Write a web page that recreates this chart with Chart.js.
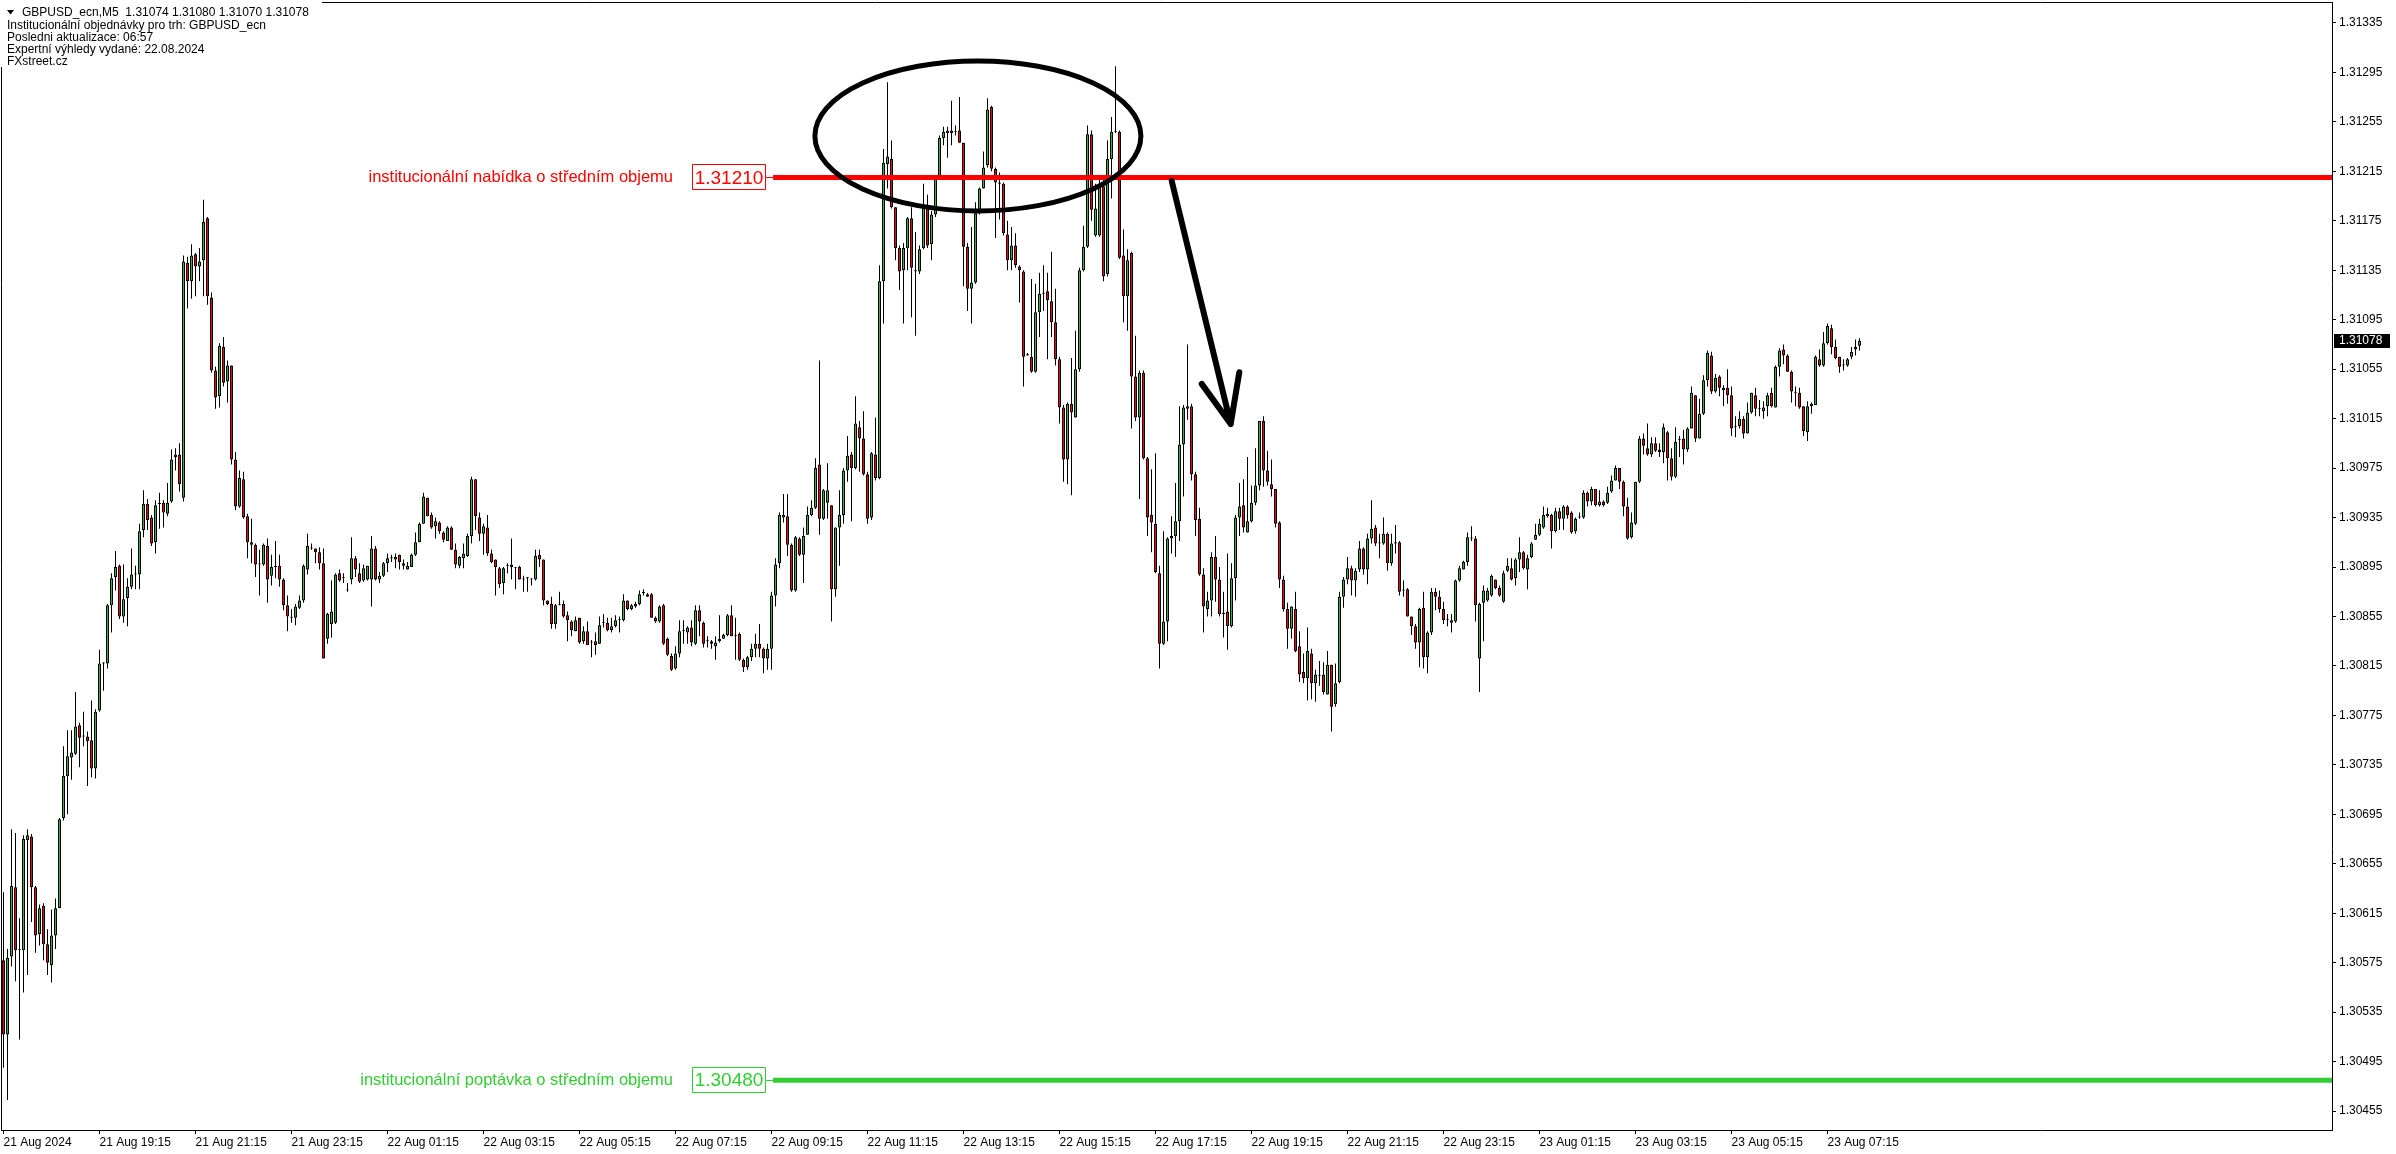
<!DOCTYPE html>
<html>
<head>
<meta charset="utf-8">
<title>GBPUSD_ecn M5</title>
<script src="https://cdn.jsdelivr.net/npm/chart.js@4.4.1/dist/chart.umd.min.js"></script>
<style>
  html, body { margin: 0; padding: 0; background: #fff; }
  canvas { display: block; }
</style>
</head>
<body>
<canvas id="chart" width="2396" height="1154"></canvas>
<script>
// prices are kept in points above 1.30000 (1 point = 0.00001)
const BASE = 1.3;
const POINT = 0.00001;

// M5 candles, 21 Aug 2024 17:15 -> 23 Aug 2024 07:55
const opens = [
  577,517,580,636,585,585,674,677,636,598,621,590,573,597,619,692,726,741,744,767,
  758,758,755,732,779,817,817,864,887,896,855,870,879,889,889,925,946,935,915,946,
  947,938,948,984,986,951,1141,1126,1148,1138,1143,1177,1113,1054,1033,1073,1045,1058,982,944,
  966,936,915,913,897,897,912,888,895,896,885,864,854,854,862,868,893,910,910,907,
  898,837,849,850,890,886,876,885,902,890,884,885,885,910,885,888,898,902,901,905,
  898,893,895,905,915,930,951,937,928,931,923,916,927,909,896,902,904,920,966,935,
  922,927,906,901,894,882,896,897,894,895,885,886,885,885,905,901,868,865,849,864,
  865,856,851,843,854,835,843,834,835,833,850,850,844,847,852,852,868,861,863,865,
  874,873,873,854,851,864,837,823,813,825,843,842,846,833,860,850,835,835,831,835,
  837,840,856,839,841,820,814,822,829,833,829,821,829,872,898,935,936,913,876,918,
  905,921,937,943,978,934,947,945,877,927,937,973,986,975,1008,999,970,935,986,967,
  1126,1221,1225,1186,1153,1135,1153,1177,1135,1134,1153,1186,1156,1180,1209,1242,1246,1248,1247,1248,
  1238,1154,1120,1125,1181,1201,1220,1267,1217,1206,1205,1164,1143,1155,1138,1134,1067,1065,1053,1101,
  1116,1118,1110,1093,1063,1024,982,1027,1016,1055,1135,1154,1245,1163,1163,1203,1132,1225,1247,1247,
  1147,1114,1149,1049,1016,1052,983,937,930,890,833,851,918,920,932,994,1023,1025,970,934,
  889,861,868,903,885,858,859,847,886,935,945,923,932,947,961,1013,973,962,958,931,
  885,861,845,861,831,810,805,825,801,807,808,792,816,784,802,871,885,894,884,893,
  910,893,918,927,914,914,922,898,914,915,876,877,855,847,834,862,822,842,875,871,
  861,852,850,851,884,893,899,918,918,821,866,868,872,885,878,867,892,894,886,901,
  907,893,903,917,921,927,936,937,924,940,934,944,939,924,935,935,955,948,958,945,
  948,947,956,965,975,964,944,919,930,964,999,991,986,995,990,988,1004,983,968,998,
  999,990,1007,1034,999,1019,1046,1066,1037,1049,1038,1040,1034,1008,1009,1015,1003,1020,1034,1023,
  1021,1025,1036,1024,1057,1071,1066,1053,1036,1036,1025,1004,1025,1026,1063,1058,1076,1088,1073,1065,
  1058,1058,1065,1073,1074
];
const highs = [
  632,586,683,680,611,678,683,679,637,622,623,602,618,627,692,750,763,763,794,769,
  778,762,787,780,828,818,865,890,908,897,897,886,910,896,930,957,950,937,949,955,
  949,963,990,991,995,1147,1146,1156,1149,1153,1192,1178,1117,1057,1076,1081,1062,1058,988,973,
  972,938,934,914,909,914,918,905,916,905,886,872,861,865,872,897,922,914,910,911,
  910,858,884,890,893,890,882,919,904,898,897,896,920,912,891,899,906,905,906,905,
  901,899,906,923,931,955,951,939,935,932,924,928,928,914,904,914,922,968,966,939,
  930,937,909,901,895,895,898,918,895,896,888,887,886,909,909,901,868,871,865,875,
  868,859,852,855,854,847,851,836,842,855,857,854,854,856,855,873,868,865,867,876,
  877,874,874,855,864,865,838,825,831,852,852,847,852,864,864,851,839,836,839,856,
  841,857,864,854,842,821,823,833,841,849,830,833,875,902,939,954,954,914,920,919,
  927,944,949,983,1062,958,979,945,927,957,975,1001,988,1033,1013,1021,972,988,1016,1139,
  1233,1287,1240,1186,1155,1157,1178,1186,1166,1155,1205,1196,1183,1210,1244,1251,1251,1272,1252,1275,
  1238,1157,1170,1190,1202,1231,1274,1268,1218,1214,1206,1175,1170,1165,1139,1135,1068,1128,1124,1133,
  1139,1133,1150,1120,1065,1026,1028,1064,1086,1137,1171,1252,1248,1205,1209,1211,1240,1259,1300,1248,
  1168,1152,1150,1082,1054,1054,984,974,987,896,924,919,936,963,1025,1026,1075,1027,972,943,
  894,875,907,920,895,875,906,898,937,963,966,984,961,991,1013,1017,989,982,958,932,
  888,866,863,875,843,825,846,829,812,819,818,827,816,817,875,887,903,896,894,916,
  911,922,949,929,922,935,923,922,929,916,884,878,855,849,862,875,843,878,878,876,
  867,857,857,885,896,900,923,928,920,866,880,878,889,885,880,892,902,902,902,919,
  908,905,915,930,934,944,943,938,943,943,945,945,940,935,939,957,956,960,958,957,
  949,960,969,977,975,965,951,939,964,1001,1003,1011,1000,1000,995,1011,1005,991,1008,1001,
  1006,1008,1041,1034,1031,1050,1070,1069,1051,1050,1042,1055,1041,1017,1021,1017,1028,1036,1040,1030,
  1029,1036,1040,1058,1072,1075,1067,1054,1041,1040,1025,1029,1028,1066,1071,1085,1092,1091,1079,1065,
  1063,1064,1073,1079,1080
];
const lows = [
  490,464,572,560,513,551,565,608,583,589,577,565,559,586,619,690,695,723,743,733,
  750,718,725,724,778,795,813,842,876,853,850,847,877,877,877,919,925,912,906,926,
  927,936,947,973,956,948,1104,1112,1114,1126,1114,1107,1052,1023,1024,1041,1028,978,941,943,
  934,902,898,887,872,896,866,880,886,879,860,843,850,848,861,866,889,909,898,893,
  821,833,838,849,883,882,875,881,887,882,883,884,863,884,882,887,891,899,894,893,
  893,893,895,904,915,930,936,926,918,922,915,916,909,894,894,894,903,914,925,916,
  905,904,898,872,878,873,890,885,877,885,875,875,880,884,895,864,864,845,845,864,
  854,835,839,843,833,833,832,822,824,833,846,843,842,846,842,851,860,860,862,864,
  872,871,854,850,850,832,823,811,812,822,833,833,831,832,839,830,830,829,820,834,
  837,839,839,820,819,810,812,819,822,822,809,812,812,863,894,931,904,875,875,904,
  882,921,936,942,921,933,934,851,871,896,930,964,932,974,972,969,930,933,965,966,
  1092,1201,1185,1143,1119,1092,1135,1097,1082,1132,1152,1153,1143,1178,1208,1236,1226,1236,1244,1238,
  1122,1102,1092,1124,1180,1201,1218,1215,1161,1176,1163,1135,1135,1137,1109,1041,1066,1052,1052,1081,
  1102,1063,1081,1058,1011,964,962,953,1016,1053,1134,1153,1175,1162,1162,1126,1130,1193,1246,1144,
  1093,1086,1007,1013,950,982,920,907,890,813,832,835,906,903,916,952,1014,965,920,888,
  842,855,855,867,855,838,828,846,868,920,923,923,931,945,957,960,961,952,927,878,
  859,829,837,826,802,801,787,788,786,799,792,792,762,782,801,862,881,872,871,891,
  889,881,914,912,902,913,892,896,906,872,871,855,840,829,814,813,809,840,860,858,
  849,847,842,850,883,893,896,916,851,794,835,867,871,877,871,866,891,884,880,891,
  893,877,902,917,920,926,935,910,923,925,925,934,922,922,934,934,944,945,944,944,
  944,946,955,965,958,936,917,918,929,963,986,985,984,988,984,979,965,965,967,984,
  978,988,1007,996,999,1018,1041,1035,1036,1033,1025,1027,1001,1000,1007,999,1003,1019,1017,1017,
  1015,1017,1024,1024,1049,1059,1053,1028,1025,1023,1001,997,1019,1026,1057,1057,1075,1067,1063,1052,
  1054,1057,1063,1066,1070
];
const closes = [
  517,579,637,585,585,675,678,636,597,619,590,575,597,619,691,726,742,745,766,757,
  758,754,732,778,817,817,864,886,895,855,869,879,889,889,924,946,933,914,945,946,
  939,947,982,986,962,1142,1126,1147,1138,1142,1174,1114,1054,1032,1074,1044,1058,982,944,967,
  935,915,913,897,897,913,885,895,895,885,864,855,854,863,868,896,912,910,907,898,
  821,857,859,889,884,886,876,902,893,883,894,896,910,885,888,898,902,902,903,899,
  896,896,905,915,930,952,936,927,932,924,917,927,909,897,903,906,920,966,936,922,
  928,906,899,895,881,894,896,895,894,885,885,886,885,904,901,868,865,849,864,864,
  855,852,844,852,834,843,832,834,832,848,850,844,847,852,852,868,861,864,865,873,
  874,871,854,851,863,833,824,812,825,843,843,846,834,860,851,833,835,833,834,837,
  840,856,839,839,820,814,822,829,833,829,821,829,872,897,937,937,913,876,919,905,
  920,937,943,975,934,957,957,877,927,937,973,985,975,1011,999,970,934,987,967,1126,
  1222,1227,1186,1153,1134,1153,1177,1137,1134,1152,1186,1155,1180,1209,1242,1247,1248,1246,1247,1238,
  1154,1120,1125,1181,1201,1218,1265,1217,1206,1205,1165,1143,1155,1139,1135,1065,1066,1053,1101,1116,
  1116,1111,1093,1063,1024,982,1027,1020,1055,1135,1154,1245,1184,1185,1203,1130,1225,1247,1247,1145,
  1114,1143,1049,1016,1052,983,935,931,891,833,851,918,920,932,994,1024,1025,970,933,889,
  863,868,903,885,857,857,847,886,935,944,927,932,947,961,1013,973,964,958,930,885,
  861,845,863,827,808,805,827,801,808,807,794,816,782,801,871,885,894,884,892,910,
  893,918,926,914,914,922,898,914,915,875,876,855,847,834,861,822,842,875,871,861,
  852,852,852,884,894,899,919,918,864,865,876,876,888,878,872,890,896,885,901,907,
  894,902,914,921,930,937,938,924,940,934,944,937,923,934,935,955,948,958,945,948,
  945,955,965,975,964,944,918,931,964,999,993,986,995,989,988,1008,983,968,996,998,
  990,1007,1036,999,1019,1046,1068,1037,1048,1040,1040,1034,1007,1008,1015,1003,1020,1036,1023,1023,
  1024,1034,1025,1057,1070,1066,1053,1037,1036,1024,1005,1025,1027,1065,1058,1076,1090,1073,1064,1057,
  1058,1063,1069,1071,1078
];

// time axis: a label every 24 bars (2 hours)
const tickBars = [0,24,48,72,96,120,144,168,192,216,240,264,288,312,336,360,384,408,432,456];
const tickLabels = [
  '21 Aug 2024','21 Aug 19:15','21 Aug 21:15','21 Aug 23:15','22 Aug 01:15','22 Aug 03:15',
  '22 Aug 05:15','22 Aug 07:15','22 Aug 09:15','22 Aug 11:15','22 Aug 13:15','22 Aug 15:15',
  '22 Aug 17:15','22 Aug 19:15','22 Aug 21:15','22 Aug 23:15','23 Aug 01:15','23 Aug 03:15',
  '23 Aug 05:15','23 Aug 07:15'
];
const priceTicks = [
  1.30455,1.30495,1.30535,1.30575,1.30615,1.30655,1.30695,1.30735,1.30775,1.30815,1.30855,1.30895,
  1.30935,1.30975,1.31015,1.31055,1.31095,1.31135,1.31175,1.31215,1.31255,1.31295,1.31335
];

// institutional levels
const levelNames = ['institucionální nabídka o středním objemu', 'institucionální poptávka o středním objemu'];
const levelPrices = [1.31210, 1.30480];
const levelColors = ['#ff0000', '#32cd32'];
const levelStartBar = 192.4;

// hand drawn marks (bar index / price)
const zone = { bar: 243.6, price: 1.312436, halfBars: 40.75, halfPrice: 0.000606 };
const arrowFrom = { bar: 292.05, price: 1.312073 };
const arrowTip = { bar: 306.8, price: 1.310106 };
const arrowWings = [{ bar: 299.55, price: 1.310431 }, { bar: 308.95, price: 1.310525 }];

const headerLines = [
  'Institucionální objednávky pro trh: GBPUSD_ecn',
  'Posledni aktualizace: 06:57',
  'Expertní výhledy vydané: 22.08.2024',
  'FXstreet.cz'
];

const X_MIN = -0.625, X_MAX = 582.125;
const Y_MIN = 1.3043972, Y_MAX = 1.3135192;
const BULL = '#3cb043', BEAR = '#ff0000';
const FONT = '"Liberation Sans", Arial, sans-serif';

const price = v => BASE + v * POINT;
const fmt = v => v.toFixed(5);

const wickData = lows.map((l, i) => ({ x: i, y: [price(l), price(highs[i])] }));
const bodyData = opens.map((o, i) => ({ x: i, y: [price(o), price(closes[i])] }));
const bodyColors = opens.map((o, i) => (closes[i] >= o ? BULL : BEAR));

const levelSets = levelPrices.map((p, k) => ({
  type: 'line',
  data: [{ x: levelStartBar, y: p }, { x: X_MAX, y: p }],
  borderColor: levelColors[k],
  borderWidth: 5,
  pointRadius: 0,
  tension: 0,
  order: 0
}));

const last = opens.length - 1;

const overlay = {
  id: 'overlay',
  afterDatasetsDraw(chart) {
    const { ctx, chartArea: a } = chart;
    const x = chart.scales.x, y = chart.scales.y;
    const px = p => x.getPixelForValue(p.bar);
    const py = p => y.getPixelForValue(p.price);
    ctx.save();
    ctx.beginPath();
    ctx.rect(a.left, a.top, a.right - a.left, a.bottom - a.top);
    ctx.clip();

    // ellipse round the top
    const cx = px(zone), cy = py(zone);
    const rx = x.getPixelForValue(zone.bar + zone.halfBars) - cx;
    const ry = cy - y.getPixelForValue(zone.price + zone.halfPrice);
    ctx.strokeStyle = '#000';
    ctx.lineWidth = 5;
    ctx.beginPath();
    ctx.ellipse(cx, cy, rx, ry, 0, 0, Math.PI * 2);
    ctx.stroke();

    // arrow
    ctx.lineWidth = 6;
    ctx.lineCap = 'round';
    ctx.lineJoin = 'round';
    ctx.beginPath();
    ctx.moveTo(px(arrowFrom), py(arrowFrom));
    ctx.lineTo(px(arrowTip), py(arrowTip));
    arrowWings.forEach(w => {
      ctx.moveTo(px(w), py(w));
      ctx.lineTo(px(arrowTip), py(arrowTip));
    });
    ctx.stroke();

    // level labels
    levelPrices.forEach((p, k) => {
      const lx = x.getPixelForValue(levelStartBar);
      const ly = y.getPixelForValue(p);
      const col = levelColors[k];
      ctx.lineCap = 'butt';
      ctx.strokeStyle = col;
      ctx.lineWidth = 1;
      ctx.beginPath();
      ctx.moveTo(lx - 7, Math.round(ly) + 0.5);
      ctx.lineTo(lx, Math.round(ly) + 0.5);
      ctx.stroke();
      const bx = Math.round(lx) - 81, by = Math.round(ly) - 13;
      ctx.fillStyle = '#fff';
      ctx.fillRect(bx, by, 74, 26);
      ctx.strokeRect(bx + 0.5, by + 0.5, 73, 25);
      ctx.fillStyle = col;
      ctx.textBaseline = 'middle';
      ctx.textAlign = 'center';
      ctx.font = '19px ' + FONT;
      ctx.fillText(fmt(p), bx + 37, ly + 1);
      ctx.textAlign = 'right';
      ctx.font = '16.5px ' + FONT;
      ctx.fillText(levelNames[k], bx - 19, ly);
    });
    ctx.restore();
  },
  afterDraw(chart) {
    const { ctx, chartArea: a } = chart;
    const y = chart.scales.y;
    ctx.save();
    // chart frame (left and top)
    ctx.strokeStyle = '#000';
    ctx.lineWidth = 1;
    ctx.beginPath();
    ctx.moveTo(a.left + 0.5, a.bottom);
    ctx.lineTo(a.left + 0.5, a.top + 0.5);
    ctx.lineTo(a.right, a.top + 0.5);
    ctx.stroke();

    // header block
    ctx.fillStyle = '#fff';
    ctx.fillRect(0, 0, 322, 67);
    ctx.fillStyle = '#000';
    ctx.beginPath();
    ctx.moveTo(7, 10);
    ctx.lineTo(14, 10);
    ctx.lineTo(10.5, 14.5);
    ctx.closePath();
    ctx.fill();
    ctx.font = '12px ' + FONT;
    ctx.textBaseline = 'middle';
    ctx.textAlign = 'left';
    const ohlc = [opens[last], highs[last], lows[last], closes[last]].map(v => fmt(price(v))).join(' ');
    ctx.fillText('GBPUSD_ecn,M5  ' + ohlc, 22, 13);
    headerLines.forEach((t, k) => ctx.fillText(t, 7, 25.5 + 12.2 * k));

    // last price marker on the price axis
    const ly = y.getPixelForValue(price(closes[last]));
    ctx.fillStyle = '#000';
    ctx.fillRect(y.left + 2, Math.round(ly) - 7, 56, 14);
    ctx.fillStyle = '#fff';
    ctx.fillText(fmt(price(closes[last])), y.left + 7, ly);
    ctx.restore();
  }
};

Chart.defaults.font.family = FONT;
Chart.defaults.font.size = 12;
Chart.defaults.color = '#000';

new Chart(document.getElementById('chart'), {
  type: 'bar',
  data: {
    datasets: [
      ...levelSets,
      {
        type: 'bar',
        data: bodyData,
        grouped: false,
        barThickness: 3,
        minBarLength: 1,
        backgroundColor: bodyColors,
        borderColor: '#000',
        borderWidth: 1,
        borderSkipped: false,
        inflateAmount: 0,
        order: 1
      },
      {
        type: 'bar',
        data: wickData,
        grouped: false,
        barThickness: 1,
        backgroundColor: '#000',
        borderWidth: 0,
        inflateAmount: 0,
        order: 2
      }
    ]
  },
  options: {
    responsive: false,
    animation: false,
    devicePixelRatio: 1,
    events: [],
    layout: { padding: { top: 2, left: 1, right: 0, bottom: 0 } },
    plugins: { legend: { display: false }, tooltip: { enabled: false } },
    scales: {
      x: {
        type: 'linear',
        position: 'bottom',
        offset: false,
        min: X_MIN,
        max: X_MAX,
        afterBuildTicks: s => { s.ticks = tickBars.map(v => ({ value: v })); },
        afterFit: s => { s.height = 24; s.paddingLeft = 0; s.paddingRight = 0; },
        ticks: {
          autoSkip: false,
          maxRotation: 0,
          minRotation: 0,
          align: 'start',
          padding: 1,
          color: '#000',
          callback: (v, i) => tickLabels[i]
        },
        grid: { offset: false, drawOnChartArea: false, drawTicks: true, tickLength: 4, color: '#000' },
        border: { display: true, color: '#000', width: 1 }
      },
      y: {
        type: 'linear',
        position: 'right',
        min: Y_MIN,
        max: Y_MAX,
        afterBuildTicks: s => { s.ticks = priceTicks.map(v => ({ value: v })); },
        afterFit: s => { s.width = 64; s.paddingTop = 0; s.paddingBottom = 0; },
        ticks: { padding: 3, color: '#000', callback: v => fmt(v) },
        grid: { drawOnChartArea: false, drawTicks: true, tickLength: 4, color: '#000' },
        border: { display: true, color: '#000', width: 1 }
      }
    }
  },
  plugins: [overlay]
});
</script>
</body>
</html>
